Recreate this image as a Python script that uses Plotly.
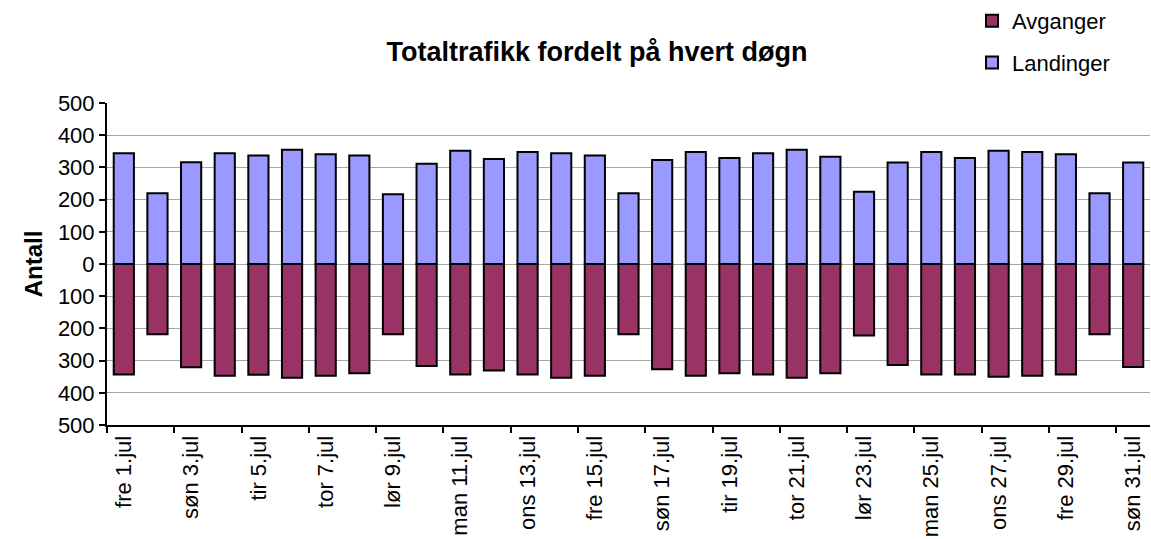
import plotly.graph_objects as go

days = ["fre 1.jul", "lør 2.jul", "søn 3.jul", "man 4.jul", "tir 5.jul", "ons 6.jul", "tor 7.jul",
        "fre 8.jul", "lør 9.jul", "søn 10.jul", "man 11.jul", "tir 12.jul", "ons 13.jul", "tor 14.jul",
        "fre 15.jul", "lør 16.jul", "søn 17.jul", "man 18.jul", "tir 19.jul", "ons 20.jul", "tor 21.jul",
        "fre 22.jul", "lør 23.jul", "søn 24.jul", "man 25.jul", "tir 26.jul", "ons 27.jul", "tor 28.jul",
        "fre 29.jul", "lør 30.jul", "søn 31.jul"]

landinger = [344, 220, 316, 344, 337, 355, 341, 337, 217, 311, 352, 326, 348, 344, 337, 220,
             323, 348, 329, 344, 355, 333, 224, 315, 348, 329, 352, 348, 341, 220, 315]

avganger = [343, 218, 321, 347, 344, 353, 347, 339, 218, 317, 343, 331, 343, 353, 347, 218,
            327, 347, 339, 343, 353, 339, 222, 314, 343, 343, 350, 347, 343, 218, 320]

y_ticks = [-500, -400, -300, -200, -100, 0, 100, 200, 300, 400, 500]
y_tick_labels = [str(abs(v)) for v in y_ticks]

FONT = "Liberation Sans, Arial, sans-serif"

fig = go.Figure()
fig.add_trace(go.Bar(
    name="Avganger", x=days, y=[-v for v in avganger],
    marker=dict(color="#993366", line=dict(color="black", width=2)),
    legendgroup="a",
))
fig.add_trace(go.Bar(
    name="Landinger", x=days, y=landinger,
    marker=dict(color="#9999FF", line=dict(color="black", width=2)),
    legendgroup="b",
))

fig.update_layout(
    width=1151, height=539,
    barmode="relative", bargap=0.4,
    plot_bgcolor="white", paper_bgcolor="white",
    margin=dict(l=107, r=1, t=103, b=114, autoexpand=False),
    font=dict(family=FONT, size=22, color="black"),
    title=dict(text="<b>Totaltrafikk fordelt på hvert døgn</b>",
               x=597/1151, xanchor="center", xref="container",
               y=1-52/539, yanchor="middle", yref="container",
               font=dict(family=FONT, size=27, color="black")),
    legend=dict(x=972/1151, xanchor="left", xref="container",
                y=1.0, yanchor="top", yref="container",
                traceorder="grouped", tracegroupgap=10,
                font=dict(family=FONT, size=22, color="black"),
                bgcolor="rgba(0,0,0,0)"),
    showlegend=True,
)

fig.update_xaxes(
    type="category", tickson="boundaries", dtick=2, tick0=0,
    tickangle=-90, ticks="outside", ticklen=6, tickcolor="black", tickwidth=1.5,
    showline=True, linecolor="black", linewidth=2, showgrid=False,
    tickfont=dict(family=FONT, size=22, color="black"), automargin=False,
)
fig.update_yaxes(
    range=[-500, 500], tickvals=y_ticks, ticktext=y_tick_labels,
    ticks="outside", ticklen=6, tickcolor="black", tickwidth=1.5,
    showline=True, linecolor="black", linewidth=2,
    showgrid=True, gridcolor="#a6a6a6", gridwidth=1.2,
    zeroline=True, zerolinecolor="#a6a6a6", zerolinewidth=1.2,
    tickfont=dict(family=FONT, size=22, color="black"), automargin=False,
    title=dict(text="<b>Antall</b>", font=dict(family=FONT, size=24, color="black"), standoff=8),
)

fig.write_html("out.html", config={"displayModeBar": False},
               post_script="document.body.style.margin='0';")
